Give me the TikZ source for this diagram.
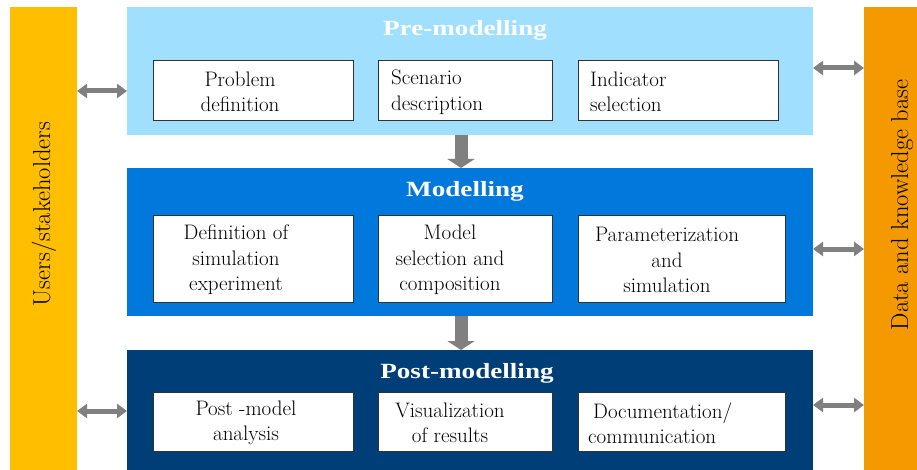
\documentclass[tikz,border=0pt]{standalone}
\usepackage{fontspec}
\newfontfamily\titlefont[FakeStretch=1.25]{Liberation Serif}
\usetikzlibrary{arrows.meta}
\definecolor{usercol}{RGB}{255,190,0}
\definecolor{datacol}{RGB}{244,154,0}
\definecolor{precol}{RGB}{160,223,253}
\definecolor{modcol}{RGB}{0,120,220}
\definecolor{postcol}{RGB}{0,62,120}
\definecolor{arrgray}{RGB}{128,128,128}
\definecolor{boxline}{RGB}{50,50,50}
\tikzset{
  panel/.style={anchor=north west, inner sep=0pt, outer sep=0pt},
  bar/.style={anchor=north west, inner sep=0pt, outer sep=0pt},
  stepbox/.style={draw=boxline, line width=1pt, fill=white, anchor=north west, inner sep=0pt, outer sep=0pt},
  txt/.style={inner sep=0pt, font=\rmfamily\fontsize{21}{25.5}\selectfont, text=black},
  ttl/.style={inner sep=0pt, font=\titlefont\bfseries\fontsize{21.7}{25}\selectfont, text=white},
  side/.style={inner sep=0pt, rotate=90, font=\rmfamily\fontsize{24.5}{28}\selectfont, text=black},
  dbl/.style={draw=arrgray, line width=5pt, {Triangle[length=10pt,width=14pt]}-{Triangle[length=10pt,width=14pt]}},
  down/.style={draw=arrgray, line width=13pt, -{Triangle[length=9pt,width=27pt]}}
}
\begin{document}
\begin{tikzpicture}[x=1pt,y=-1pt]
\useasboundingbox[fill=white] (0,0) rectangle (917,470);
% side bars
\node[bar, fill=usercol, minimum width=67pt, minimum height=463pt] (users) at (10,7) {};
\node[bar, fill=datacol, minimum width=60pt, minimum height=463pt] (data) at (864,7) {};
\node[side] (userst) at (44,214) {Users/stakeholders};
\node[side] (datat) at (902,205) {Data and knowledge base};
% panels
\node[panel, fill=precol, minimum width=686pt, minimum height=128pt] (pre) at (127,7) {};
\node[panel, fill=modcol, minimum width=686pt, minimum height=148pt] (mod) at (127,168) {};
\node[panel, fill=postcol, minimum width=686pt, minimum height=125pt] (post) at (127,350) {};
\node[ttl] (pret) at (465,30) {Pre-modelling};
\node[ttl] (modt) at (465,191) {Modelling};
\node[ttl] (postt) at (467,373) {Post-modelling};
% pre boxes
\node[stepbox, minimum width=200pt, minimum height=60pt] (b11) at (153,61) {};
\node[stepbox, minimum width=174pt, minimum height=60pt] (b12) at (378,61) {};
\node[stepbox, minimum width=200pt, minimum height=60pt] (b13) at (578,61) {};
\node[txt, align=center] (t11) at (240,92) {Problem\\definition};
\node[txt, align=left, anchor=west] (t12) at (391,92) {Scenario\\description};
\node[txt, align=left, anchor=west] (t13) at (590,92) {Indicator\\selection};
% modelling boxes
\node[stepbox, minimum width=200pt, minimum height=86pt] (b21) at (153,216) {};
\node[stepbox, minimum width=174pt, minimum height=86pt] (b22) at (378,216) {};
\node[stepbox, minimum width=207pt, minimum height=86pt] (b23) at (578,216) {};
\node[txt, align=center] (t21) at (236,260) {Definition of\\simulation\\experiment};
\node[txt, align=center] (t22) at (450,260) {Model\\selection and\\composition};
\node[txt, align=center] (t23) at (667,260) {Parameterization\\and\\simulation};
% post boxes
\node[stepbox, minimum width=200pt, minimum height=59pt] (b31) at (153,392) {};
\node[stepbox, minimum width=174pt, minimum height=59pt] (b32) at (378,392) {};
\node[stepbox, minimum width=207pt, minimum height=59pt] (b33) at (578,392) {};
\node[txt, align=center] (t31) at (246,423) {Post -model\\analysis};
\node[txt, align=center] (t32) at (450,423) {Visualization\\of results};
\node[txt, align=left, anchor=west] (t33) at (588,423) {\hspace*{5pt}Documentation/\\communication};
% vertical arrows
\draw[down] (pre.south -| 461,0) -- (mod.north -| 461,0);
\draw[down] (mod.south -| 461,0) -- (post.north -| 461,0);
% horizontal double arrows
\draw[dbl] (users.east |- 0,91) -- (pre.west |- 0,91);
\draw[dbl] (users.east |- 0,411) -- (post.west |- 0,411);
\draw[dbl] (pre.east |- 0,68) -- (data.west |- 0,68);
\draw[dbl] (mod.east |- 0,249) -- (data.west |- 0,249);
\draw[dbl] (post.east |- 0,405) -- (data.west |- 0,405);
\end{tikzpicture}
\end{document}
